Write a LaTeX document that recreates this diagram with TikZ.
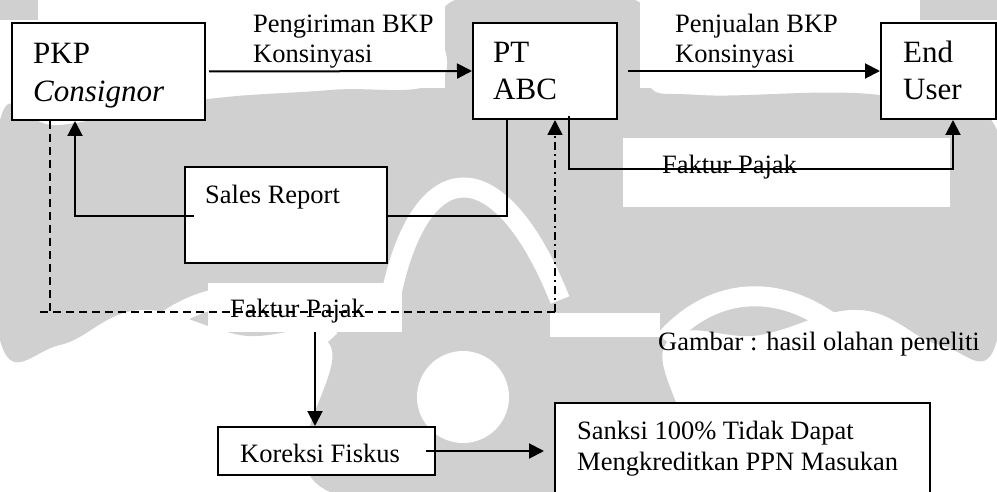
\documentclass[tikz,border=0pt]{standalone}
\usepackage{fontspec}
\setmainfont{Liberation Serif}
\usetikzlibrary{arrows.meta}

\definecolor{wm}{RGB}{208,208,208}

\tikzset{
  box/.style={draw=black, line width=2pt, fill=white, inner sep=0pt},
  lbl/.style={anchor=base west, inner sep=0pt, align=left,
              font=\fontsize{26.5}{30.5}\selectfont},
  big/.style={anchor=base west, inner sep=0pt, align=left,
              font=\fontsize{31}{37.5}\selectfont},
  conn/.style={line width=2pt},
  arr/.style={conn, -{Triangle[length=15pt,width=15pt]}},
  dsh/.style={line width=1.8pt, dash pattern=on 8pt off 5pt},
  dshdot/.style={line width=1.8pt, dash pattern=on 8pt off 4pt on 2pt off 4pt},
}

\begin{document}
\begin{tikzpicture}[x=1pt, y=-1pt]
\useasboundingbox (0,0) rectangle (997,492);

% ---- faint background ornament ----
\begin{scope}
  \fill[wm] plot[smooth cycle, tension=0.7] coordinates
    {(455,0) (635,0) (645,80) (700,95) (880,95) (997,130) (997,340)
     (940,345) (860,310) (760,335) (665,345) (665,492) (330,492)
     (330,345) (240,335) (140,310) (60,345) (0,340) (0,120) (60,125)
     (200,100) (330,90) (440,80)};
  \fill[wm] (0,0) rectangle (38,20);
  \fill[wm] (920,0) rectangle (997,20);
  % white cut-outs
  \draw[white, line width=20pt] (390,300) .. controls (420,150) and (500,150) .. (560,300);
  \draw[white, line width=20pt] (60,480) .. controls (120,300) and (250,250) .. (330,340);
  \draw[white, line width=20pt] (935,480) .. controls (875,300) and (745,250) .. (665,340);
  \fill[white] (463,397) circle (46);
  \fill[white] (550,313) rectangle (660,337);
  \fill[white] (0,400) rectangle (120,492);
  \fill[white] (880,370) rectangle (997,492);
  \fill[white] (623,138) rectangle (950,207);
  \fill[white] (250,0) rectangle (445,88);
  \fill[white] (640,0) rectangle (875,88);
\end{scope}

% ---- boxes ----
\node[box, minimum width=193pt, minimum height=97pt] (pkp) at (108.5,71.5) {};
\node[box, minimum width=144pt, minimum height=96pt] (pt)  at (545,71) {};
\node[box, minimum width=115pt, minimum height=96pt] (end) at (938.5,71) {};
\node[box, minimum width=202pt, minimum height=96pt] (sales) at (286,215) {};
\node[box, minimum width=217pt, minimum height=48pt] (kor) at (326.5,451) {};
\node[box, minimum width=375pt, minimum height=98pt] (sanksi) at (742.5,452) {};
\node[fill=white, inner sep=0pt, minimum width=194pt, minimum height=49pt] (fpbox) at (305,307.5) {};

% ---- texts (base anchor sits on the last line) ----
\node[big] (tpkp) at (33,101.5) {PKP\\\itshape Consignor};
\node[big] (tpt)  at (493,100) {PT\\ABC};
\node[big] (tend) at (903,100) {End\\User};
\node[lbl] (tkirim) at (253,63) {Pengiriman BKP\\Konsinyasi};
\node[lbl] (tjual)  at (675,63) {Penjualan BKP\\Konsinyasi};
\node[lbl] (tfp1)   at (662,174) {Faktur Pajak};
\node[lbl] (tsales) at (205,204) {Sales Report};
\node[lbl] (tfp2)   at (230,317) {Faktur Pajak};
\node[lbl] (tkor)   at (240,462) {Koreksi Fiskus};
\node[lbl] (tsank)  at (577,470) {Sanksi 100\% Tidak Dapat\\Mengkreditkan PPN Masukan};
\node[lbl] (tgbr)   at (658,350) {Gambar : hasil olahan peneliti};

% ---- connectors ----
\draw[arr] ([xshift=3pt]pkp.east) -- (pt.west);
\draw[arr] ([xshift=10pt]pt.east) -- (end.west);
\draw[arr] ([xshift=24pt,yshift=4pt]pt.south) -- ++(0,53) -| ([xshift=14.5pt]end.south);
\draw[arr] ([xshift=10pt,yshift=-1pt]sales.west) -| ([xshift=-33.5pt]pkp.south);
\draw[conn] ([yshift=-1pt]sales.east) -| ([xshift=-38pt]pt.south);

\coordinate (dl) at (40,312);
\coordinate (dr) at (555,312);
\draw[dsh] ([xshift=-58.5pt]pkp.south) -- (dl -| 50,0);
\draw[dsh] (dl) -- (dr);
\draw[dshdot, -{Triangle[length=15pt,width=15pt]}] (dr) -- (dr |- pt.south);

\draw[arr] ([xshift=10pt]fpbox.south) -- ([xshift=-11.5pt]kor.north);
\draw[arr] ([xshift=-10pt]kor.east) -- ([xshift=-10pt]sanksi.west |- kor.east);
\end{tikzpicture}
\end{document}
